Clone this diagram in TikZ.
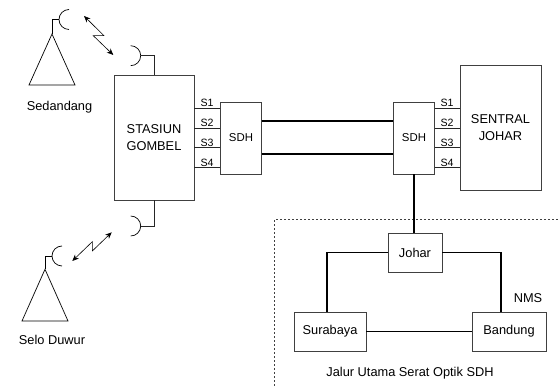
\documentclass[tikz,border=0pt]{standalone}
\usepackage{fontspec}
\setmainfont{Liberation Sans}
\usetikzlibrary{arrows.meta}
\tikzset{
  x=1pt,y=-1pt,
  box/.style={draw=black!75,line width=0.9pt,fill=white,inner sep=0pt,align=center,font=\fontsize{12.8}{16}\selectfont},
  sdhbox/.style={box,minimum width=40.5pt,minimum height=72pt,font=\fontsize{11.4}{14}\selectfont},
  netbox/.style={box,minimum height=39pt},
  thick line/.style={draw=black,line width=1.25pt},
  thin line/.style={draw=black!85,line width=0.7pt},
  ant/.style={draw=black,line width=0.7pt},
  link/.style={draw=black,line width=0.6pt,{Stealth[length=6.5pt,width=5.5pt]}-{Stealth[length=6.5pt,width=5.5pt]}},
  lbl/.style={inner sep=0pt,font=\fontsize{12.8}{16}\selectfont},
  slbl/.style={inner sep=0pt,font=\fontsize{10.6}{12}\selectfont},
}
\begin{document}
\begin{tikzpicture}
\useasboundingbox (0,0) rectangle (560,387);
% dotted frame
\draw[draw=black!75,line width=1pt,dash pattern=on 1.7pt off 2.3pt] (274,386) -- (274,220) -- (560,220);
% main boxes
\node[box,minimum width=80pt,minimum height=125pt] (gombel) at (154,137.5) {STASIUN\\[1pt]GOMBEL};
\node[box,minimum width=81pt,minimum height=125pt] (johar) at (500.5,127.5) {SENTRAL\\[1pt]JOHAR};
\node[sdhbox] (sdha) at (241,138) {SDH};
\node[sdhbox] (sdhb) at (414,138) {SDH};
\node[netbox,minimum width=54pt] (njohar) at (415,252.5) {Johar};
\node[netbox,minimum width=72pt] (surabaya) at (330,331.5) {Surabaya};
\node[netbox,minimum width=74pt] (bandung) at (509,331.5) {Bandung};
% level coordinates
\coordinate (y1) at (0,108);
\coordinate (y2) at (0,128);
\coordinate (y3) at (0,147.5);
\coordinate (y4) at (0,167);
\coordinate (t1) at (0,121);
\coordinate (t2) at (0,154);
% S links
\foreach \n in {1,2,3,4}{
  \draw[thin line] (gombel.east |- y\n) -- (sdha.west |- y\n);
  \draw[thin line] (sdhb.east |- y\n) -- (johar.west |- y\n);
}
\node[slbl] (la1) at (207,103) {S1};
\node[slbl] (la2) at (207,123) {S2};
\node[slbl] (la3) at (207,143) {S3};
\node[slbl] (la4) at (207,163) {S4};
\node[slbl] (lb1) at (447,103) {S1};
\node[slbl] (lb2) at (447,123) {S2};
\node[slbl] (lb3) at (447,143) {S3};
\node[slbl] (lb4) at (447,163) {S4};
% trunk
\draw[thick line] (sdha.east |- t1) -- (sdhb.west |- t1);
\draw[thick line] (sdha.east |- t2) -- (sdhb.west |- t2);
\draw[thick line] (sdhb.south) -- (sdhb.south |- njohar.north);
% ring
\coordinate (lx) at (327,0);
\coordinate (rx) at (501,0);
\draw[thick line] (njohar.west) -| (lx |- surabaya.north);
\draw[thick line] (njohar.east) -| (rx |- bandung.north);
\draw[thick line] (surabaya.east) -- (bandung.west);
\node[lbl] (nms) at (528,298) {NMS};
\node[lbl] (jalur) at (410,373) {Jalur Utama Serat Optik SDH};
% Sedandang
\coordinate (a1) at (52,34);
\coordinate (a1l) at (29,85);
\coordinate (a1r) at (75,85);
\coordinate (d1) at (59,19.5);
\draw[ant] (a1l) -- (a1) -- (a1r) -- cycle;
\draw[ant] (a1) -- (a1 |- d1) -- (d1);
\draw[ant] (69,9.5) arc[start angle=-90,end angle=-270,radius=10];
\node[lbl] (sedandang) at (59.5,107) {Sedandang};
% Selo Duwur
\coordinate (a2) at (45,269.3);
\coordinate (a2l) at (22,321);
\coordinate (a2r) at (68,321);
\coordinate (d2) at (52,256);
\draw[ant] (a2l) -- (a2) -- (a2r) -- cycle;
\draw[ant] (a2) -- (a2 |- d2) -- (d2);
\draw[ant] (62,246) arc[start angle=-90,end angle=-270,radius=10];
\node[lbl] (selo) at (52,340) {Selo Duwur};
% Gombel dishes
\coordinate (d3) at (140.7,55.7);
\coordinate (d4) at (140.7,226);
\draw[ant] (130.7,45.7) arc[start angle=-90,end angle=90,radius=10];
\draw[ant] (130.7,216) arc[start angle=-90,end angle=90,radius=10];
\draw[thin line] (d3) -| (gombel.north);
\draw[thin line] (d4) -| (gombel.south);
% radio links
\coordinate (z1a) at (84,16);
\coordinate (z1b) at (104,35.7);
\coordinate (z1c) at (93.3,35.7);
\coordinate (z1d) at (113.3,55);
\draw[link] (z1a) -- (z1b) -- (z1c) -- (z1d);
\coordinate (z2a) at (111.7,232.3);
\coordinate (z2b) at (92.3,251);
\coordinate (z2c) at (92.3,241.7);
\coordinate (z2d) at (72.3,261);
\draw[link] (z2a) -- (z2b) -- (z2c) -- (z2d);
\end{tikzpicture}
\end{document}
